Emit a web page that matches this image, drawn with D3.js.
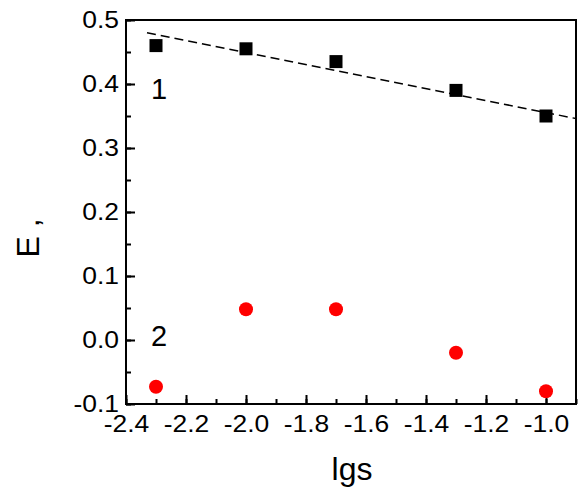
<!DOCTYPE html>
<html lang="en">
<head>
<meta charset="utf-8">
<title>E vs lgs</title>
<script src="https://d3js.org/d3.v7.min.js"></script>
<style>
  html, body { margin: 0; padding: 0; background: #fff; }
  svg { display: block; font-family: "Liberation Sans", Arial, sans-serif; }
</style>
</head>
<body>
<svg id="chart"></svg>
<script>
const width = 580;
const height = 490;

// data
const lgs = [-2.3, -2.0, -1.7, -1.3, -1.0];
const series1 = [0.46, 0.455, 0.435, 0.39, 0.35];
const series2 = [-0.073, 0.048, 0.048, -0.02, -0.08];
// dashed fit line, end points
const fitX = [-2.33, -0.9];
const fitY = [0.48, 0.346];

const xTicks = [-2.4, -2.2, -2.0, -1.8, -1.6, -1.4, -1.2, -1.0];
const yTicks = [-0.1, 0.0, 0.1, 0.2, 0.3, 0.4, 0.5];

const margin = {top: 20, right: 4, bottom: 86, left: 126};
const stretch = 1.15; // tick labels are a bit wider than plain Arial

const svg = d3.select("#chart")
    .attr("width", width)
    .attr("height", height);

const x = d3.scaleLinear()
    .domain([-2.4, -0.9])
    .range([margin.left, width - margin.right]);

const y = d3.scaleLinear()
    .domain([-0.1, 0.5])
    .range([height - margin.bottom, margin.top]);

const plotW = x.range()[1] - x.range()[0];
const plotH = y.range()[0] - y.range()[1];
const fmt = d => d3.format(".1f")(d).replace("−", "-");

// frame
svg.append("rect")
    .attr("x", x.range()[0])
    .attr("y", y.range()[1])
    .attr("width", plotW)
    .attr("height", plotH)
    .attr("fill", "none")
    .attr("stroke", "#000")
    .attr("stroke-width", 2);

// x axis, ticks pointing inside
const xMinor = d3.range(-2.4, -0.85, 0.1);
svg.append("g")
    .attr("transform", `translate(0,${y.range()[0]})`)
    .call(d3.axisBottom(x).tickValues(xMinor).tickSize(-5).tickFormat(""))
    .call(g => g.select(".domain").remove());
const xMajor = svg.append("g")
    .attr("transform", `translate(0,${y.range()[0]})`)
    .call(d3.axisBottom(x).tickValues(xTicks).tickSize(-9).tickPadding(12).tickFormat(fmt));
xMajor.select(".domain").remove();
xMajor.selectAll("text")
    .attr("font-size", 23)
    .attr("font-family", "Liberation Sans, Arial, sans-serif")
    .attr("transform", `scale(${stretch},1)`);

// y axis
const yMinor = d3.range(-0.1, 0.501, 0.05);
svg.append("g")
    .attr("transform", `translate(${x.range()[0]},0)`)
    .call(d3.axisLeft(y).tickValues(yMinor).tickSize(-5).tickFormat(""))
    .call(g => g.select(".domain").remove());
const yMajor = svg.append("g")
    .attr("transform", `translate(${x.range()[0]},0)`)
    .call(d3.axisLeft(y).tickValues(yTicks).tickSize(-9).tickPadding(7).tickFormat(fmt));
yMajor.select(".domain").remove();
yMajor.selectAll("text")
    .attr("font-size", 23)
    .attr("font-family", "Liberation Sans, Arial, sans-serif")
    .attr("x", -7 / stretch)
    .attr("transform", `scale(${stretch},1)`);

svg.selectAll(".tick line").attr("stroke-width", 2);

// dashed fit line
svg.append("line")
    .attr("x1", x(fitX[0]))
    .attr("y1", y(fitY[0]))
    .attr("x2", x(fitX[1]))
    .attr("y2", y(fitY[1]))
    .attr("stroke", "#000")
    .attr("stroke-width", 1.5)
    .attr("stroke-dasharray", "9,5");

// squares
svg.selectAll("rect.sq")
    .data(lgs)
    .enter()
    .append("rect")
    .attr("class", "sq")
    .attr("x", d => x(d) - 6.5)
    .attr("y", (d, i) => y(series1[i]) - 6.5)
    .attr("width", 13)
    .attr("height", 13)
    .attr("fill", "#000");

// circles
svg.selectAll("circle")
    .data(lgs)
    .enter()
    .append("circle")
    .attr("cx", d => x(d))
    .attr("cy", (d, i) => y(series2[i]))
    .attr("r", 7)
    .attr("fill", "#ff0000");

// series labels
svg.append("text")
    .attr("x", x(-2.29))
    .attr("y", 99)
    .attr("text-anchor", "middle")
    .attr("font-size", 29)
    .text("1");
svg.append("text")
    .attr("x", x(-2.29))
    .attr("y", 346)
    .attr("text-anchor", "middle")
    .attr("font-size", 29)
    .text("2");

// axis titles
svg.append("text")
    .attr("x", 352)
    .attr("y", 480)
    .attr("text-anchor", "middle")
    .attr("font-size", 32)
    .text("lgs");
svg.append("text")
    .attr("transform", "translate(39,238) rotate(-90)")
    .attr("text-anchor", "middle")
    .attr("font-size", 32)
    .text("E ,");
</script>
</body>
</html>
